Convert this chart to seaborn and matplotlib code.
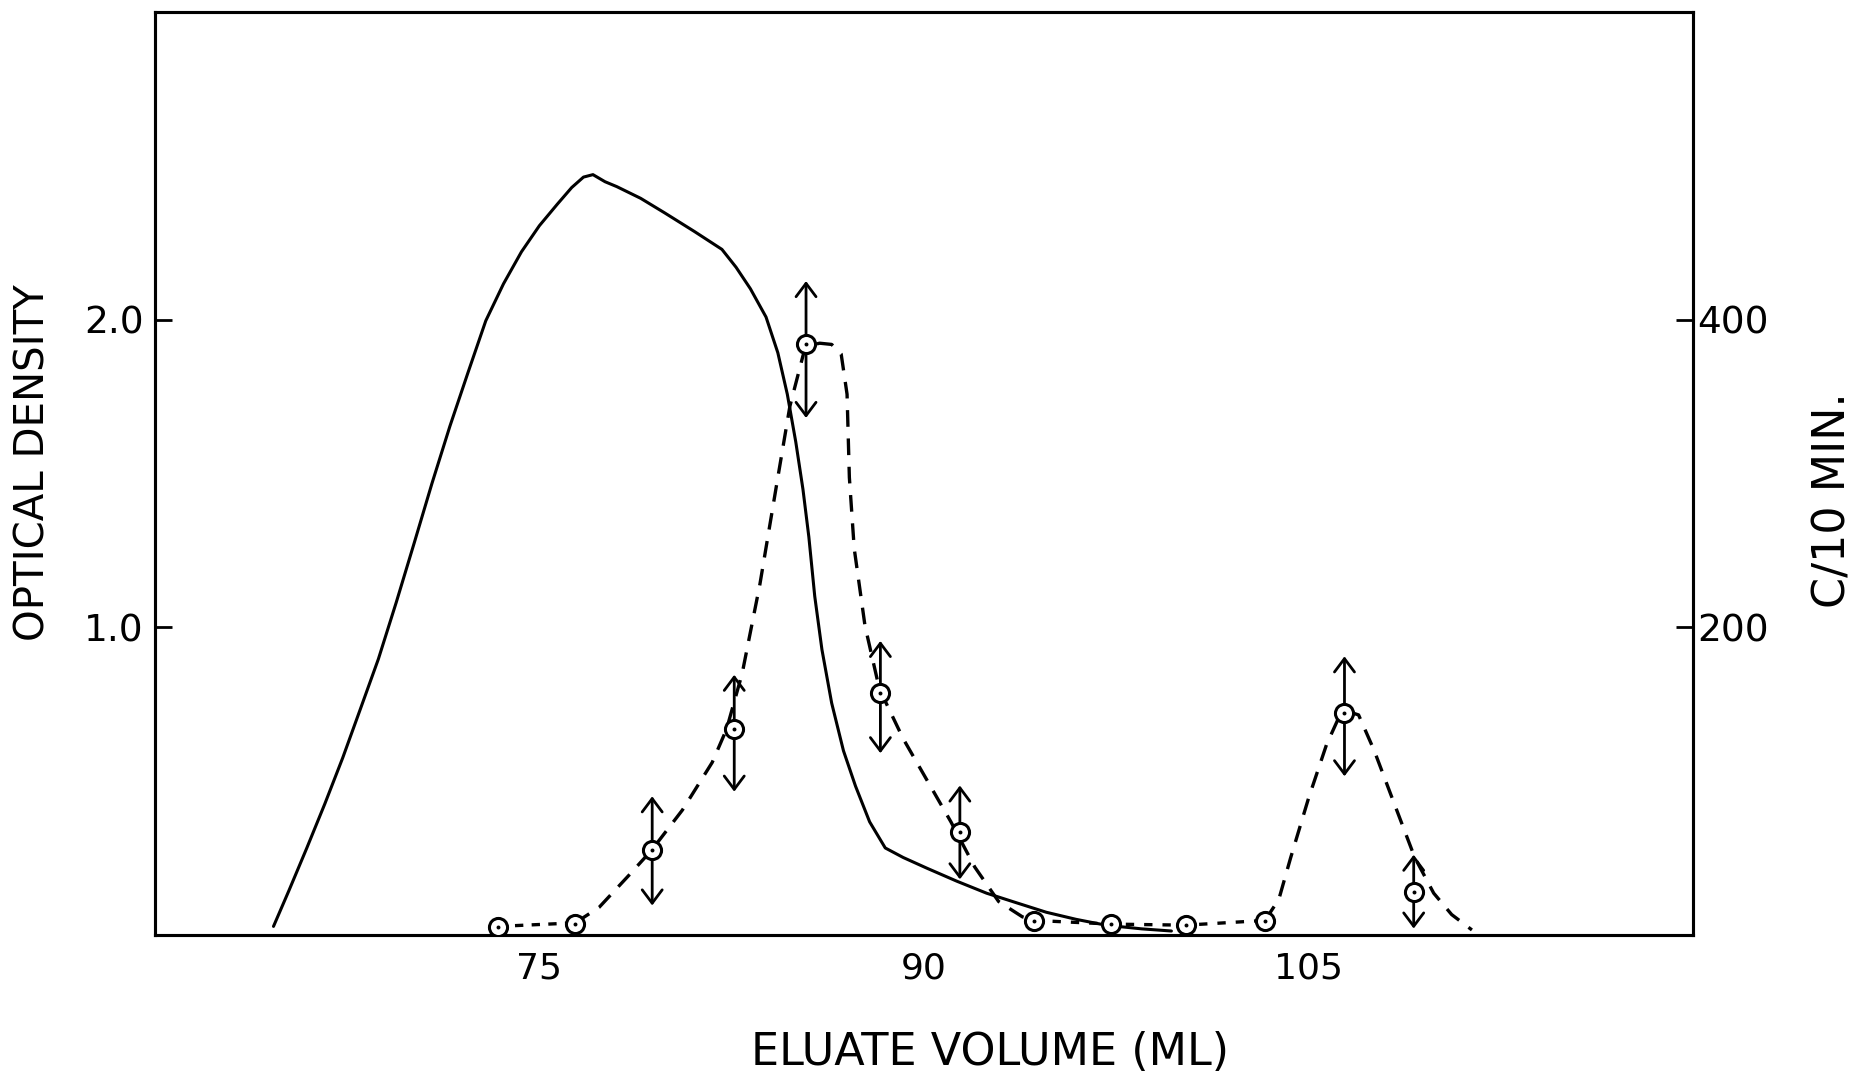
import matplotlib
matplotlib.use("Agg")
import matplotlib.pyplot as plt
import seaborn as sns

# optical density (solid curve, left axis)
od_vol = [64.63, 65.23, 65.93, 66.63, 67.33, 68.02, 68.72, 69.42, 70.12, 70.81,
          71.51, 72.21, 72.91, 73.60, 74.30, 75.00, 75.70, 76.26, 76.72, 77.09,
          77.56, 78.02, 78.95, 79.88, 81.05, 82.12, 82.67, 83.23, 83.84, 84.30,
          84.67, 85.00, 85.28, 85.51, 85.74, 86.02, 86.40, 86.86, 87.33, 87.88,
          88.49, 89.19, 90.12, 91.28, 92.44, 93.60, 94.77, 95.93, 97.09, 98.49, 99.65]
od = [0.027, 0.143, 0.282, 0.425, 0.575, 0.734, 0.896, 1.081, 1.274, 1.467,
      1.653, 1.826, 1.996, 2.116, 2.220, 2.305, 2.375, 2.429, 2.463, 2.471,
      2.448, 2.432, 2.394, 2.347, 2.286, 2.228, 2.170, 2.100, 2.008, 1.892,
      1.757, 1.602, 1.448, 1.293, 1.100, 0.927, 0.753, 0.598, 0.483, 0.367,
      0.282, 0.251, 0.216, 0.174, 0.135, 0.104, 0.073, 0.050, 0.031, 0.019, 0.012]

# counts (circles, right axis)
cpm_vol = [73.4, 76.4, 79.4, 82.6, 85.4, 88.3, 91.4, 94.3, 97.3, 100.2, 103.3, 106.4, 109.1]
cpm = [5, 7, 55, 134, 384, 157, 67, 9, 7, 6, 9, 144, 28]

# range arrows on some of the counts
arrow_vol = [79.4, 82.6, 85.4, 88.3, 91.4, 106.4, 109.1]
arrow_lo = [19, 93, 336, 118, 36, 103, 4]
arrow_hi = [90, 169, 425, 191, 97, 181, 52]

# hand-drawn dashed curve through the counts, in pieces
base1_vol = [73.4, 76.4]
base1_cpm = [5.4, 7.7]
peak1_vol = [76.4, 77.33, 78.49, 79.37, 80.58, 81.74, 82.30, 82.91, 83.60, 84.30, 84.77,
             85.37, 85.93, 86.40, 86.77, 87.00, 87.09, 87.28, 87.70, 88.26, 89.19, 90.12,
             91.05, 91.98, 92.91, 93.84, 94.30]
peak1_cpm = [7.7, 17.8, 38.6, 54.8, 81.1, 112, 133.6, 169.9, 227.8, 297.3, 343.6,
             382.2, 384.6, 383.8, 377.6, 351.4, 297.3, 251, 200.8, 159.8, 127.4, 100.4,
             73.4, 44, 21.6, 11.6, 9.3]
base2_vol = [94.3, 97.3, 100.2, 103.3]
base2_cpm = [9.3, 6.9, 6.2, 9.3]
peak2_vol = [103.3, 103.84, 104.3, 105.0, 105.7, 106.16, 106.53, 106.95, 107.56, 108.26,
             109.14, 109.88, 110.58, 111.37]
peak2_cpm = [9.3, 23, 50, 88.8, 123.6, 140.5, 145.2, 142.9, 119.7, 88.8,
             50.2, 27, 13.1, 3.1]

sns.set_style("white")
plt.rcParams['font.family'] = ['DejaVu Sans']
plt.rcParams['text.color'] = 'black'
plt.rcParams['axes.labelcolor'] = 'black'
plt.rcParams['xtick.color'] = 'black'
plt.rcParams['ytick.color'] = 'black'

fig = plt.figure(figsize=(18.67, 10.74), dpi=100)
ax = fig.add_axes([0.0829, 0.1297, 0.824, 0.8592])
ax2 = ax.twinx()

sns.lineplot(x=od_vol, y=od, sort=False, estimator=None, color='black', lw=2.2, ax=ax)

pieces = [(base1_vol, base1_cpm, (2.5, 2.5)),
          (peak1_vol, peak1_cpm, (5, 3.5)),
          (base2_vol, base2_cpm, (2.5, 3)),
          (peak2_vol, peak2_cpm, (5, 3.5))]
for vx, vy, dash in pieces:
    sns.lineplot(x=vx, y=vy, sort=False, estimator=None, color='black', lw=2.4,
                 dashes=dash, ax=ax2)

for v, lo, hi in zip(arrow_vol, arrow_lo, arrow_hi):
    ax2.annotate('', xy=(v, hi), xytext=(v, lo),
                 arrowprops=dict(arrowstyle='<->,head_length=0.4,head_width=0.3',
                                 lw=2, color='black', mutation_scale=24,
                                 shrinkA=0, shrinkB=0))

sns.scatterplot(x=cpm_vol, y=cpm, marker='o', s=170, facecolor='white',
                edgecolor='black', linewidth=2.2, zorder=5, ax=ax2)
sns.scatterplot(x=cpm_vol, y=cpm, marker='o', s=8, color='black',
                linewidth=0, zorder=6, ax=ax2)

ax.set_xlim(60, 120)
ax.set_ylim(0, 3)
ax2.set_ylim(0, 600)

ax.set_xticks([75, 90, 105])
ax.set_yticks([1.0, 2.0])
ax.set_yticklabels(['1.0', '2.0'])
ax2.set_yticks([200, 400])

ax.tick_params(axis='x', direction='in', length=12, width=1.2, labelsize=26, pad=12)
ax.tick_params(axis='y', direction='in', length=12, width=2, labelsize=27, pad=8,
               left=True, right=False)
ax2.tick_params(axis='y', direction='in', length=12, width=2, labelsize=27, pad=3,
                right=True, left=False)

for a in (ax, ax2):
    for s in a.spines.values():
        s.set_linewidth(2.2)
        s.set_color('black')

ax.set_xlabel('ELUATE VOLUME (ML)', fontsize=32)
ax.xaxis.set_label_coords(0.543, -0.104)
ax.set_ylabel('OPTICAL DENSITY', fontsize=29)
ax.yaxis.set_label_coords(-0.066, 0.512)
ax2.set_ylabel('C/10 MIN.', fontsize=32)
ax2.yaxis.set_label_coords(1.077, 0.471)

fig.savefig('out.png', dpi=100)
